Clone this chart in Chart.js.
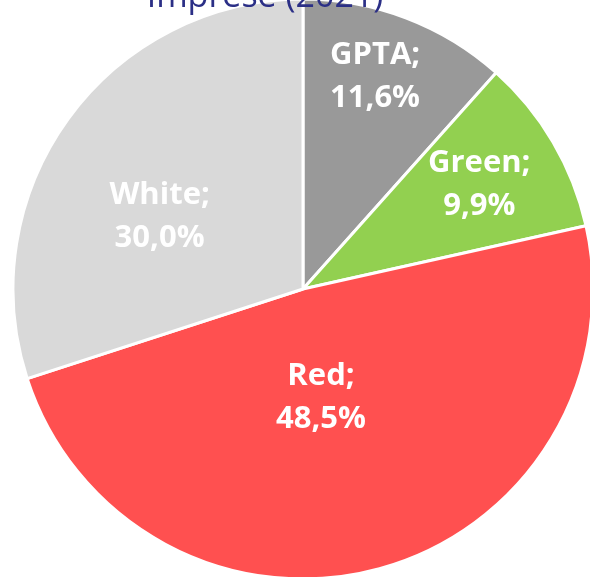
<!DOCTYPE html>
<html>
<head>
<meta charset="utf-8">
<script src="https://cdn.jsdelivr.net/npm/chart.js@4.4.0/dist/chart.umd.min.js"></script>
<style>
    html, body {
        margin: 0;
        padding: 0;
        width: 590px;
        height: 577px;
        overflow: hidden;
        background: #ffffff;
    }
    #wrap {
        position: absolute;
        left: 0;
        top: -1px;
        width: 606px;
        height: 580px;
    }
    #title {
        position: absolute;
        left: 0;
        width: 530px;
        top: -29px;
        text-align: center;
        font-family: 'Open Sans', sans-serif;
        font-size: 34px;
        color: #2B2F86;
        white-space: nowrap;
        z-index: 2;
    }
</style>
</head>
<body>
<div id="wrap"><canvas id="pieChart"></canvas></div>
<div id="title">Imprese (2021)</div>
<script>
// Dati
const categorie = ['GPTA', 'Green', 'Red', 'White'];
const quote = [11.6, 9.9, 48.5, 30.0];
const colori = ['#999999', '#92D050', '#FF5050', '#D9D9D9'];

// posizione etichette: frazione del raggio e scarto angolare (gradi)
const posEtichette = [
    { r: 0.78, da: -2.3 },
    { r: 0.71, da: -0.7 },
    { r: 0.372, da: 5.7 },
    { r: 0.557, da: -8.6 }
];

function formatPct(v) {
    return v.toFixed(1).replace('.', ',') + '%';
}

const etichettePlugin = {
    id: 'etichette',
    afterDatasetsDraw(chart) {
        const ctx = chart.ctx;
        const meta = chart.getDatasetMeta(0);
        const size = 31;
        const gap = 43;
        ctx.save();
        ctx.font = 'bold ' + size + 'px "Open Sans", sans-serif';
        ctx.fillStyle = '#ffffff';
        ctx.textAlign = 'center';
        ctx.textBaseline = 'alphabetic';
        meta.data.forEach((arc, i) => {
            const p = arc.getProps(['x', 'y', 'startAngle', 'endAngle', 'outerRadius'], true);
            const pos = posEtichette[i];
            const mid = (p.startAngle + p.endAngle) / 2 + pos.da * Math.PI / 180;
            const cx = p.x + Math.cos(mid) * p.outerRadius * pos.r;
            const cy = p.y + Math.sin(mid) * p.outerRadius * pos.r;
            const capH = size * 0.714;
            ctx.fillText(categorie[i] + ';', cx, cy - gap / 2 + capH / 2);
            ctx.fillText(formatPct(quote[i]), cx, cy + gap / 2 + capH / 2);
        });
        ctx.restore();
    }
};

new Chart(document.getElementById('pieChart').getContext('2d'), {
    type: 'pie',
    data: {
        labels: categorie,
        datasets: [{
            data: quote,
            backgroundColor: colori,
            borderColor: '#ffffff',
            borderWidth: 3
        }]
    },
    options: {
        responsive: true,
        maintainAspectRatio: false,
        animation: false,
        radius: 290,
        layout: { padding: 0 },
        plugins: {
            legend: { display: false },
            tooltip: { enabled: false }
        }
    },
    plugins: [etichettePlugin]
});
</script>
</body>
</html>
